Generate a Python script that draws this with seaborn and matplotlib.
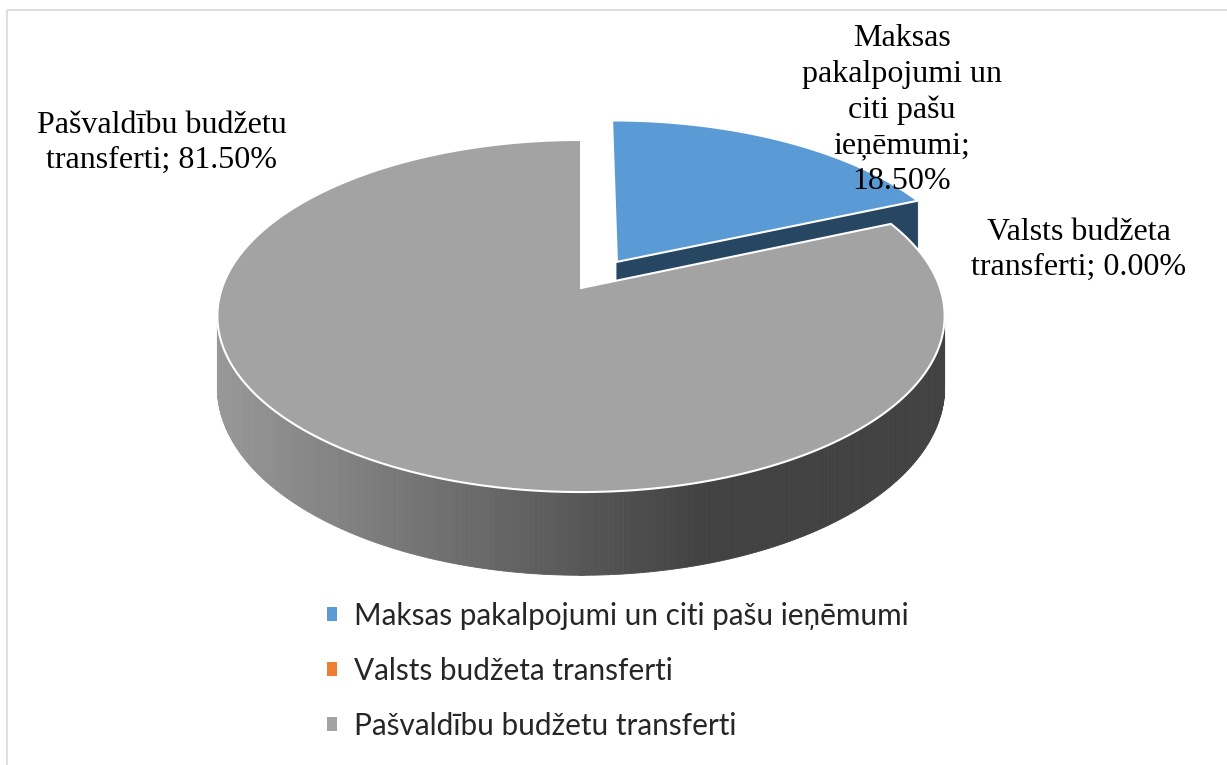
import numpy as np
import matplotlib.pyplot as plt
import seaborn as sns
from matplotlib.patches import Polygon, Patch, Rectangle
from matplotlib.colors import to_rgb

# data
categories = ["Maksas pakalpojumi un citi pašu ieņēmumi",
              "Valsts budžeta transferti",
              "Pašvaldību budžetu transferti"]
shares = [18.50, 0.00, 81.50]
label_heads = ["Maksas\npakalpojumi un\nciti pašu\nieņēmumi;\n",
               "Valsts budžeta\ntransferti; ",
               "Pašvaldību budžetu\ntransferti; "]
explode = [1, 0, 0]
top_colors = ["#5B9BD5", "#ED7D31", "#A3A3A3"]
side_colors = ["#264661", "#8C4A1D", "#424242"]

sns.set_theme(style="white")
plt.rcParams['font.family'] = ['Liberation Serif', 'DejaVu Serif']

# 3d pie geometry (screen pixels)
CX, CY = 581, 288
R = 359
SQ = 0.478
D = 6.29 * R
H = 70
EXP = 67
WALL_LIGHT, WALL_DARK = "#989898", "#424242"


def project(X, Z, down=0.0):
    s = D / (D + Z)
    return CX + X * s, CY - SQ * Z * s + down * s


def rim(theta, off, down=0.0):
    t = np.radians(theta)
    return project(off[0] + R * np.sin(t), off[1] + R * np.cos(t), down)


def wall_color(x):
    f = np.clip((x - 217) / (700 - 217), 0, 1)
    a, b = np.array(to_rgb(WALL_LIGHT)), np.array(to_rgb(WALL_DARK))
    return tuple(a + (b - a) * f)


fig = plt.figure(figsize=(12.27, 7.65), dpi=100)
ax = fig.add_axes([0, 0, 1, 1])
ax.set_xlim(0, 1227)
ax.set_ylim(765, 0)
ax.axis("off")

# chart border
ax.add_patch(Rectangle((7, 10), 1260, 800, fill=False, edgecolor="#D9D9D9", lw=1.2))

total = sum(shares)
cum = np.concatenate([[0], np.cumsum(shares)]) / total * 360
slices = []
for i, v in enumerate(shares):
    if v <= 0:
        continue
    a0, a1 = cum[i], cum[i + 1]
    mid = np.radians((a0 + a1) / 2)
    off = (EXP * explode[i] * np.sin(mid), EXP * explode[i] * np.cos(mid))
    slices.append((np.cos(mid), i, a0, a1, off))
slices.sort(reverse=True)

sil = np.degrees(np.arccos(-R / D))
for _, i, a0, a1, off in slices:
    # outer wall, front part only
    w0, w1 = max(a0, sil), min(a1, 360 - sil)
    if w1 > w0:
        ths = np.linspace(w0, w1, 240)
        for t0, t1 in zip(ths[:-1], ths[1:]):
            p = [rim(t0, off), rim(t1, off), rim(t1, off, H), rim(t0, off, H)]
            c = wall_color((p[0][0] + p[1][0]) / 2) if i == 2 else side_colors[i]
            ax.add_patch(Polygon(p, closed=True, facecolor=c, edgecolor=c, lw=0.6))
    # cut face at end angle
    if np.sin(np.radians(a1)) > 1e-6:
        p = [project(*off), rim(a1, off), rim(a1, off, H), project(*off, H)]
        ax.add_patch(Polygon(p, closed=True, facecolor=side_colors[i], edgecolor=side_colors[i], lw=0.6))
    # top face
    ths = np.linspace(a0, a1, 300)
    pts = [project(*off)] + [rim(t, off) for t in ths]
    ax.add_patch(Polygon(pts, closed=True, facecolor=top_colors[i], edgecolor="white", lw=1.5, zorder=3))

# data labels
label_pos = [(902, 110), (1079, 250), (162, 143)]
for head, v, (x, y) in zip(label_heads, shares, label_pos):
    ax.text(x, y, f"{head}{v:.2f}%", ha="center", va="center", fontsize=23,
            linespacing=1.3, color="black", zorder=5)

handles = [Patch(facecolor=c, edgecolor="none") for c in top_colors]
fig.legend(handles, categories, loc="upper left", bbox_to_anchor=(0.2665, 0.213),
           frameon=False, prop=dict(family="Lato", size=21.4), handlelength=0.35,
           handleheight=0.35, handletextpad=0.55, labelspacing=0.9,
           borderpad=0, borderaxespad=0)

fig.savefig("out.png", dpi=100)
